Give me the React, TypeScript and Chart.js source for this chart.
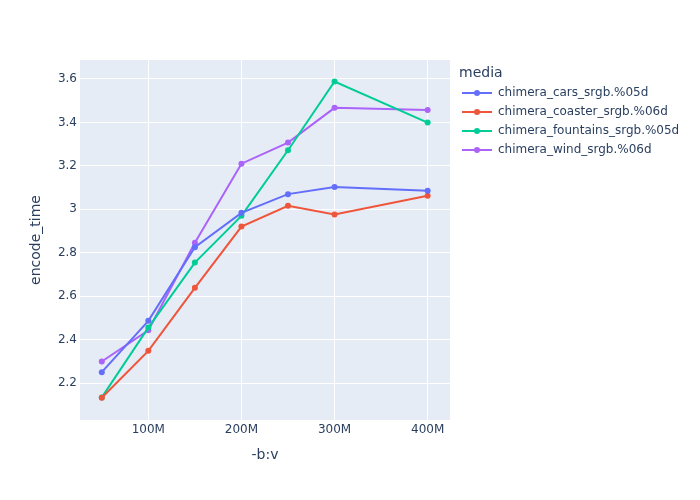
import React, { useEffect, useRef } from "react";
import { Chart, registerables } from "chart.js";

Chart.register(...registerables);

const bitrates = [50e6, 100e6, 150e6, 200e6, 250e6, 300e6, 400e6];
const seriesNames = [
  "chimera_cars_srgb.%05d",
  "chimera_coaster_srgb.%06d",
  "chimera_fountains_srgb.%05d",
  "chimera_wind_srgb.%06d",
];
const carsValues = [2.251, 2.487, 2.826, 2.984, 3.07, 3.103, 3.085];
const coasterValues = [2.133, 2.349, 2.639, 2.921, 3.016, 2.976, 3.063];
const fountainsValues = [2.135, 2.456, 2.755, 2.97, 3.272, 3.588, 3.399];
const windValues = [2.3, 2.444, 2.846, 3.21, 3.307, 3.467, 3.457];
const seriesColors = ["#636efa", "#EF553B", "#00cc96", "#ab63fa"];
const xTicks = [100e6, 200e6, 300e6, 400e6];
const yTicks = [2.2, 2.4, 2.6, 2.8, 3.0, 3.2, 3.4, 3.6];
const xTitle = "-b:v";
const yTitle = "encode_time";
const legendTitle = "media";

const FONT = '"DejaVu Sans", Verdana, sans-serif';
const TEXT = "#2a3f5f";

export default function App() {
  const ref = useRef<HTMLCanvasElement>(null);
  useEffect(() => {
    document.body.style.margin = "0";
    const allValues = [carsValues, coasterValues, fountainsValues, windValues];
    const bgPlugin = {
      id: "bg",
      beforeDraw(chart: any) {
        const { ctx, chartArea } = chart;
        ctx.save();
        ctx.fillStyle = "#ffffff";
        ctx.fillRect(0, 0, chart.width, chart.height);
        ctx.fillStyle = "#E5ECF6";
        ctx.fillRect(chartArea.left, chartArea.top, chartArea.right - chartArea.left, chartArea.bottom - chartArea.top);
        ctx.restore();
      },
    };
    const legendPlugin = {
      id: "customLegend",
      afterDraw(chart: any) {
        const { ctx } = chart;
        ctx.save();
        ctx.fillStyle = TEXT;
        ctx.font = `14px ${FONT}`;
        ctx.textBaseline = "middle";
        ctx.textAlign = "left";
        ctx.fillText(legendTitle, 459, 73);
        seriesNames.forEach((name, i) => {
          const y = 93 + i * 19;
          ctx.strokeStyle = seriesColors[i];
          ctx.lineWidth = 2;
          ctx.beginPath();
          ctx.moveTo(462, y);
          ctx.lineTo(492, y);
          ctx.stroke();
          ctx.fillStyle = seriesColors[i];
          ctx.beginPath();
          ctx.arc(477, y, 3, 0, Math.PI * 2);
          ctx.fill();
          ctx.fillStyle = TEXT;
          ctx.font = `12px ${FONT}`;
          ctx.fillText(name, 498, y);
        });
        ctx.restore();
      },
    };
    const chart = new Chart(ref.current!, {
      type: "line",
      data: {
        datasets: seriesNames.map((name, i) => ({
          label: name,
          data: bitrates.map((x, j) => ({ x, y: allValues[i][j] })),
          borderColor: seriesColors[i],
          backgroundColor: seriesColors[i],
          borderWidth: 2,
          pointRadius: 3,
          pointHoverRadius: 3,
          pointBorderWidth: 0,
          tension: 0,
        })),
      },
      options: {
        animation: false,
        responsive: false,
        layout: { padding: { top: 60, right: 250, left: 0, bottom: 0 } },
        plugins: { legend: { display: false }, tooltip: { enabled: false } },
        scales: {
          x: {
            type: "linear",
            min: 26.6e6,
            max: 424e6,
            afterFit(scale: any) {
              scale.height = 80;
            },
            afterBuildTicks(scale: any) {
              scale.ticks = xTicks.map((v) => ({ value: v }));
            },
            grid: { color: "#ffffff", lineWidth: 1, drawTicks: false },
            border: { display: false },
            ticks: {
              color: TEXT,
              font: { family: FONT, size: 12 },
              padding: 3,
              maxRotation: 0,
              callback: (v: any) => `${Math.round(Number(v) / 1e6)}M`,
            },
            title: {
              display: true,
              text: xTitle,
              color: TEXT,
              font: { family: FONT, size: 14 },
              padding: { top: 4, bottom: 36 },
            },
          },
          y: {
            type: "linear",
            min: 2.031,
            max: 3.687,
            afterFit(scale: any) {
              scale.width = 80;
            },
            afterBuildTicks(scale: any) {
              scale.ticks = yTicks.map((v) => ({ value: v }));
            },
            grid: { color: "#ffffff", lineWidth: 1, drawTicks: false },
            border: { display: false },
            ticks: {
              color: TEXT,
              font: { family: FONT, size: 12 },
              padding: 3,
              callback: (v: any) => String(Number(Number(v).toFixed(1))),
            },
            title: {
              display: true,
              text: yTitle,
              color: TEXT,
              font: { family: FONT, size: 14 },
              padding: { top: 28, bottom: 0 },
            },
          },
        },
      } as any,
      plugins: [bgPlugin, legendPlugin],
    });
    return () => chart.destroy();
  }, []);
  return <canvas ref={ref} width={700} height={500} style={{ display: "block" }} />;
}
